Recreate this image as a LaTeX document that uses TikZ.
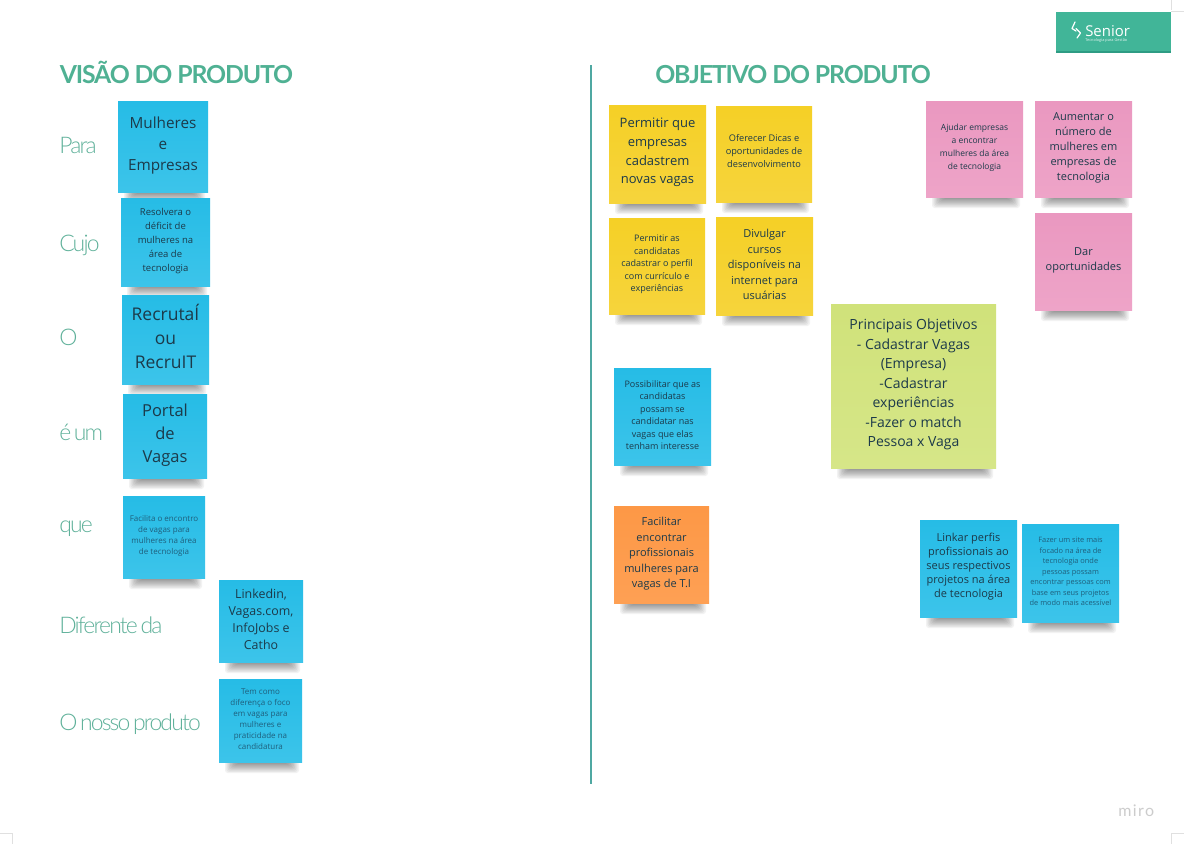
\documentclass[tikz,border=0pt]{standalone}
\usepackage{fontspec}
\setmainfont{Open Sans}
\newfontfamily\headfont[LetterSpace=-4.6]{Lato}
\newfontfamily\labelfont[LetterSpace=-8,WordSpace=0.6]{Lato Light}
\newfontfamily\mirofont[LetterSpace=9]{Lato}
\definecolor{headgreen}{HTML}{4FB193}
\definecolor{labelgreen}{HTML}{5FB19A}
\definecolor{notetxt}{HTML}{1C3A4A}
\definecolor{softtxt}{HTML}{1F5F7C}
\definecolor{divider}{HTML}{4FA8A2}
\definecolor{logogreen}{HTML}{41B598}
\definecolor{logodark}{HTML}{2E9C84}
\definecolor{blueA}{RGB}{38,188,230}\definecolor{blueB}{RGB}{60,196,234}
\definecolor{yelA}{RGB}{245,208,38}\definecolor{yelB}{RGB}{246,212,60}
\definecolor{pinkA}{RGB}{234,152,192}\definecolor{pinkB}{RGB}{238,164,200}
\definecolor{grnA}{RGB}{208,226,122}\definecolor{grnB}{RGB}{214,230,136}
\definecolor{orA}{RGB}{253,152,70}\definecolor{orB}{RGB}{254,160,84}
\tikzset{
  fnt/.style 2 args={font=\fontsize{\fpeval{#1*0.75}}{\fpeval{#2*0.75}}\selectfont},
  bluenote/.style={top color=blueA,bottom color=blueB},
  yellownote/.style={top color=yelA,bottom color=yelB},
  pinknote/.style={top color=pinkA,bottom color=pinkB},
  greennote/.style={top color=grnA,bottom color=grnB},
  orangenote/.style={top color=orA,bottom color=orB},
  sticky/.style={inner sep=0pt,outer sep=0pt},
  stickytext/.style={inner sep=0pt,align=center,text=notetxt},
  headline/.style={anchor=base west,inner sep=0pt,text=headgreen,font=\headfont\bfseries\fontsize{18.6}{22}\selectfont},
  rowlabel/.style={anchor=base west,inner sep=0pt,text=labelgreen,font=\labelfont\fontsize{17.2}{20}\selectfont},
  cropmark/.style={draw=black!12,line width=0.5pt}
}
% name x1 y1 x2 y2 colourstyle options text
\newcommand{\stickynote}[8]{%
  \pgfmathsetmacro\notew{(#4-#2)*0.75}%
  \pgfmathsetmacro\noteh{(#5-#3)*0.75}%
  \foreach \i in {0,1,...,9}{%
    \fill[black,opacity=0.05,rounded corners=2pt] (#2+6+\i*1.3,#5-2) rectangle (#4-3-\i*1.3,#5+11-\i*1.15);
  }%
  \node[sticky,#6,minimum width=\notew pt,minimum height=\noteh pt] (#1) at ({(#2+#4)/2},{(#3+#5)/2}) {};%
  \node[stickytext,#7] (#1t) at ([yshift=1.1pt]#1.center) {#8};%
}
\begin{document}
\begin{tikzpicture}[x=0.75pt,y=-0.75pt]
\useasboundingbox (0,0) rectangle (1184,844);
\fill[white] (0,0) rectangle (1184,844);

% crop marks
\coordinate (c1a) at (1171,0); \coordinate (c1b) at (1171,10);
\coordinate (c1c) at (1171,11); \coordinate (c1d) at (1184,11);
\coordinate (c2a) at (1171,833); \coordinate (c2b) at (1171,844);
\coordinate (c2c) at (1171,833); \coordinate (c2d) at (1184,833);
\coordinate (c3a) at (12,833); \coordinate (c3b) at (12,844);
\coordinate (c3c) at (0,833); \coordinate (c3d) at (12,833);
\draw[cropmark] (c1a)--(c1b) (c1c)--(c1d) (c2a)--(c2b) (c2c)--(c2d) (c3a)--(c3b) (c3c)--(c3d);

% divider
\coordinate (divtop) at (591,65); \coordinate (divbot) at (591,784);
\draw[divider,line width=1.2pt] (divtop)--(divbot);

% logo
\node[fill=logogreen,minimum width=86.25pt,minimum height=30.5pt,inner sep=0pt] (logo) at (1113.5,32.5) {};
\fill[logodark] (logo.south west) rectangle ([yshift=1.6pt]logo.south east);
\node[anchor=base west,text=white,font=\fontsize{11.2}{14}\selectfont,inner sep=0pt] (logotxt) at (1085,36) {Senior};
\node[anchor=base west,text=white!85!logogreen,font=\fontsize{2.9}{3}\selectfont,inner sep=0pt] (logosub) at (1085,41) {Tecnologia para Gestão};
\draw[white,line width=0.9pt,line cap=round,line join=round] (1075,22) -- (1072,28.5) -- (1076,31);
\draw[white,line width=0.9pt,line cap=round,line join=round] (1076,28.5) -- (1080.5,33) -- (1077,38);

% headings
\node[headline] (h1) at (59.5,83) {VISÃO DO PRODUTO};
\node[headline] (h2) at (655,83) {OBJETIVO DO PRODUTO};

% row labels
\node[rowlabel] (l1) at (59,153) {Para};
\node[rowlabel] (l2) at (59,251) {Cujo};
\node[rowlabel] (l3) at (59,345) {O};
\node[rowlabel] (l4) at (59,440) {é um};
\node[rowlabel] (l5) at (59,532) {que};
\node[rowlabel] (l6) at (59,633) {Diferente da};
\node[rowlabel] (l7) at (59,730) {O nosso produto};

% left column
\stickynote{n1}{118}{101}{208}{192}{bluenote}{fnt={15.3}{21}}{Mulheres\\e\\Empresas}
\stickynote{n2}{121}{198}{210}{286}{bluenote}{fnt={9.5}{14}}{Resolvera o\\déficit de\\mulheres na\\área de\\tecnologia}
\stickynote{n3}{122}{295}{209}{384}{bluenote}{fnt={17.5}{24},yshift=1.5pt}{RecrutaÍ\\ou\\RecruIT}
\stickynote{n4}{123}{394}{207}{478}{bluenote}{fnt={16.5}{23},yshift=-0.75pt}{Portal\\de\\Vagas}
\stickynote{n5}{123}{496}{205}{578}{bluenote}{fnt={8}{11},text=softtxt}{Facilita o encontro\\de vagas para\\mulheres na área\\de tecnologia}
\stickynote{n6}{219}{580}{303}{662}{bluenote}{fnt={12.4}{17}}{Linkedin,\\Vagas.com,\\InfoJobs e\\Catho}
\stickynote{n7}{219}{679}{302}{762}{bluenote}{fnt={8}{11},text=softtxt}{Tem como\\diferença o foco\\em vagas para\\mulheres e\\praticidade na\\candidatura}

% right side
\stickynote{r1}{609}{105}{706}{203}{yellownote}{fnt={13}{18.7}}{Permitir que\\empresas\\cadastrem\\novas vagas}
\stickynote{r2}{716}{106}{812}{202}{yellownote}{fnt={9.2}{13},yshift=1.5pt}{Oferecer Dicas e\\oportunidades de\\desenvolvimento}
\stickynote{r3}{609}{218}{705}{314}{yellownote}{fnt={9}{12.6}}{Permitir as\\candidatas\\cadastrar o perfil\\com currículo e\\experiências}
\stickynote{r4}{716}{217}{813}{315}{yellownote}{fnt={11}{15.5}}{Divulgar\\cursos\\disponíveis na\\internet para\\usuárias}
\stickynote{r5}{926}{101}{1023}{197}{pinknote}{fnt={8.5}{13}}{Ajudar empresas\\a encontrar\\mulheres da área\\de tecnologia}
\stickynote{r6}{1035}{101}{1132}{197}{pinknote}{fnt={11}{15}}{Aumentar o\\número de\\mulheres em\\empresas de\\tecnologia}
\stickynote{r7}{1035}{213}{1132}{310}{pinknote}{fnt={11}{15}}{Dar\\oportunidades}
\stickynote{r8}{831}{304}{996}{468}{greennote}{fnt={14}{19.5}}{Principais Objetivos\\- Cadastrar Vagas\\(Empresa)\\-Cadastrar\\experiências\\-Fazer o match\\Pessoa x Vaga}
\stickynote{r9}{614}{368}{711}{465}{bluenote}{fnt={9}{12.5}}{Possibilitar que as\\candidatas\\possam se\\candidatar nas\\vagas que elas\\tenham interesse}
\stickynote{r10}{614}{506}{709}{603}{orangenote}{fnt={11}{15.5},yshift=-0.75pt}{Facilitar\\encontrar\\profissionais\\mulheres para\\vagas de T.I}
\stickynote{r11}{920}{520}{1017}{617}{bluenote}{fnt={11}{14}}{Linkar perfis\\profissionais ao\\seus respectivos\\projetos na área\\de tecnologia}
\stickynote{r12}{1022}{524}{1119}{622}{bluenote}{fnt={7.4}{10.5},text=softtxt}{Fazer um site mais\\focado na área de\\tecnologia onde\\pessoas possam\\encontrar pessoas com\\base em seus projetos\\de modo mais acessível}

% miro mark
\node[anchor=base west,inner sep=0pt,text=black!20,font=\mirofont\fontsize{12}{14}\selectfont] (miro) at (1118,816) {miro};
\end{tikzpicture}
\end{document}
